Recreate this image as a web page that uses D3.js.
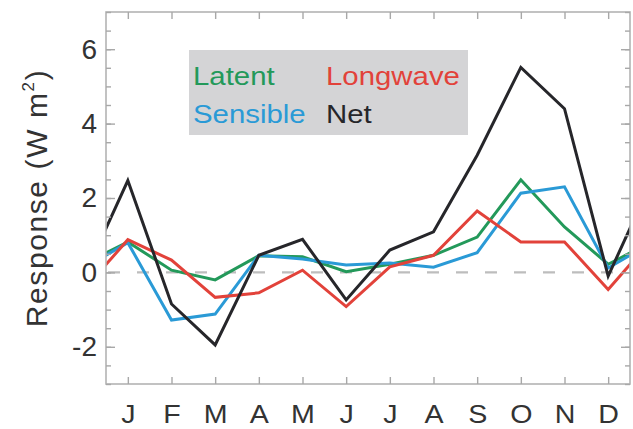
<!DOCTYPE html>
<html>
<head>
<meta charset="utf-8">
<script src="https://cdn.jsdelivr.net/npm/d3@7"></script>
<style>
  html, body { margin: 0; padding: 0; background: #fff; }
  svg { display: block; font-family: "Liberation Sans", Arial, Helvetica, sans-serif; }
</style>
</head>
<body>
<svg id="chart" width="633" height="429"></svg>
<script>
// Monthly surface flux responses (W m^-2)
const months = ["J", "F", "M", "A", "M", "J", "J", "A", "S", "O", "N", "D"];
const latent    = [0.82, 0.06, -0.20, 0.45, 0.42, 0.02, 0.22, 0.46, 0.95, 2.49, 1.22, 0.22];
const sensible  = [0.80, -1.28, -1.12, 0.46, 0.36, 0.20, 0.25, 0.14, 0.53, 2.13, 2.30, 0.12];
const longwave  = [0.88, 0.33, -0.67, -0.55, 0.06, -0.92, 0.15, 0.46, 1.65, 0.82, 0.82, -0.46];
const net       = [2.47, -0.85, -1.95, 0.46, 0.89, -0.74, 0.60, 1.09, 3.15, 5.51, 4.40, -0.10];
const seriesNames = ["Latent", "Sensible", "Longwave", "Net"];
const seriesColors = ["#23995a", "#2a9ad6", "#e2423a", "#26262a"];
const yMajorTicks = [-2, 0, 2, 4, 6];

const svg = d3.select("#chart");
const plot = { left: 106, right: 630, top: 12, bottom: 384 };

const x = d3.scaleLinear().domain([-0.5, 11.5]).range([plot.left, plot.right]);
const y = d3.scaleLinear().domain([-3, 7]).range([plot.bottom, plot.top]);

svg.append("defs").append("clipPath").attr("id", "plot-clip")
  .append("rect")
  .attr("x", plot.left).attr("y", plot.top)
  .attr("width", plot.right - plot.left).attr("height", plot.bottom - plot.top);

// Legend background
const legend = svg.append("g");
legend.append("rect")
  .attr("x", 189).attr("y", 50).attr("width", 279).attr("height", 85)
  .attr("fill", "#d4d4d6");

// Zero reference line
svg.append("line")
  .attr("x1", plot.left).attr("x2", plot.right)
  .attr("y1", y(0)).attr("y2", y(0))
  .attr("stroke", "#bdbdbd").attr("stroke-width", 2.2)
  .attr("stroke-dasharray", "12 17")
  .attr("stroke-dashoffset", -2);

// Annual cycle is periodic: pad with previous December and next January
function wrapped(vals) {
  const pts = vals.map((v, i) => [i, v]);
  return [[-1, vals[11]], ...pts, [12, vals[0]]];
}

const line = d3.line().x(d => x(d[0])).y(d => y(d[1]));
const seriesData = [latent, sensible, longwave, net];

const lines = svg.append("g").attr("clip-path", "url(#plot-clip)");
seriesData.forEach((vals, k) => {
  lines.append("path")
    .datum(wrapped(vals))
    .attr("fill", "none")
    .attr("stroke", seriesColors[k])
    .attr("stroke-width", 3)
    .attr("stroke-linejoin", "miter")
    .attr("d", line);
});

// Frame
svg.append("rect")
  .attr("x", plot.left).attr("y", plot.top)
  .attr("width", plot.right - plot.left).attr("height", plot.bottom - plot.top)
  .attr("fill", "none").attr("stroke", "#b3b3b3").attr("stroke-width", 1.6);

const halfSteps = d3.range(-3, 7.01, 0.5);
const tickColor = "#a8a8a8";

function styleAxis(g) {
  g.select(".domain").remove();
  g.selectAll(".tick line").attr("stroke", tickColor).attr("stroke-width", 1.4);
}

// Left axis
svg.append("g").attr("transform", `translate(${plot.left},0)`)
  .call(d3.axisLeft(y).tickValues(halfSteps).tickSize(-5).tickFormat(""))
  .call(styleAxis);
svg.append("g").attr("transform", `translate(${plot.left},0)`)
  .call(d3.axisLeft(y).tickValues(yMajorTicks).tickSize(-9).tickPadding(9).tickFormat(d => String(d)))
  .call(styleAxis)
  .call(g => g.selectAll("text")
    .attr("font-size", 28).attr("fill", "#333")
    .attr("font-family", "'Liberation Sans', Arial, sans-serif"));

// Right axis
svg.append("g").attr("transform", `translate(${plot.right},0)`)
  .call(d3.axisRight(y).tickValues(halfSteps).tickSize(-5).tickFormat(""))
  .call(styleAxis);
svg.append("g").attr("transform", `translate(${plot.right},0)`)
  .call(d3.axisRight(y).tickValues(yMajorTicks).tickSize(-9).tickFormat(""))
  .call(styleAxis);

// Bottom axis with month initials
svg.append("g").attr("transform", `translate(0,${plot.bottom})`)
  .call(d3.axisBottom(x).tickValues(d3.range(12)).tickSize(-7).tickPadding(21)
    .tickFormat(i => months[i]))
  .call(styleAxis)
  .call(g => g.selectAll("text")
    .attr("font-size", 26).attr("fill", "#333")
    .attr("transform", "scale(1.1,1)")
    .attr("font-family", "'Liberation Sans', Arial, sans-serif"));

// Top axis
svg.append("g").attr("transform", `translate(0,${plot.top})`)
  .call(d3.axisTop(x).tickValues(d3.range(12)).tickSize(-7).tickFormat(""))
  .call(styleAxis);

// Y axis title
const title = svg.append("text")
  .attr("transform", `translate(47,${(plot.top + plot.bottom) / 2}) rotate(-90)`)
  .attr("text-anchor", "middle")
  .attr("font-size", 30)
  .attr("letter-spacing", 1.6)
  .attr("fill", "#333");
title.append("tspan").text("Response (W m");
title.append("tspan").attr("font-size", 17).attr("dy", -13).text("2");
title.append("tspan").attr("dy", 13).text(")");

// Legend entries (slightly widened glyphs)
const legendPos = [[193, 85], [193, 123], [326, 85], [326, 123]];
seriesNames.forEach((name, k) => {
  legend.append("text")
    .attr("transform", `translate(${legendPos[k][0]},${legendPos[k][1]}) scale(1.13,1)`)
    .attr("font-size", 26)
    .attr("fill", seriesColors[k])
    .text(name);
});
</script>
</body>
</html>
